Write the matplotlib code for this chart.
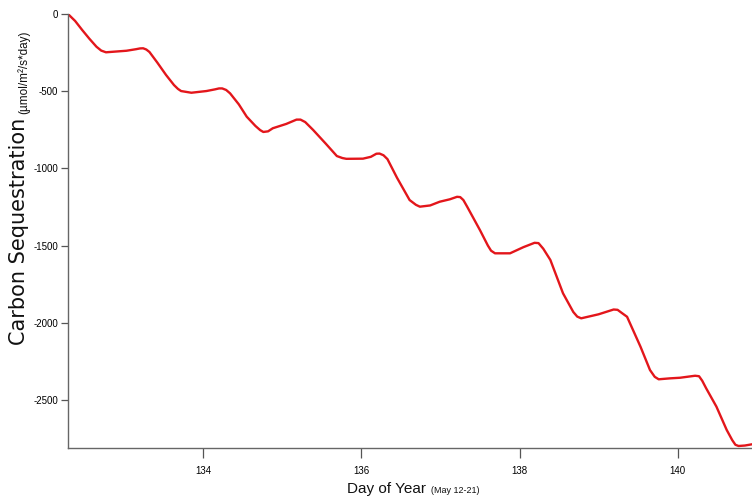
import matplotlib
matplotlib.use("Agg")
import matplotlib.pyplot as plt

day = [132.29, 132.33, 132.38, 132.47, 132.56, 132.65, 132.71, 132.77, 132.90, 133.03, 133.15,
       133.20, 133.24, 133.28, 133.32, 133.42, 133.53, 133.63, 133.68, 133.72, 133.85, 134.04, 134.15,
       134.20, 134.24, 134.29, 134.34, 134.45, 134.55, 134.66, 134.72, 134.76, 134.82, 134.88, 135.05,
       135.18, 135.23, 135.29, 135.39, 135.55, 135.69, 135.76, 135.81, 136.02, 136.12, 136.19, 136.23,
       136.28, 136.33, 136.45, 136.61, 136.69, 136.74, 136.87, 136.99, 137.12, 137.21, 137.25,
       137.29, 137.34, 137.50, 137.60, 137.64, 137.69, 137.88, 138.05, 138.19, 138.24, 138.30,
       138.39, 138.55, 138.68, 138.73, 138.78, 139.00, 139.19, 139.24, 139.29, 139.36, 139.53,
       139.65, 139.71, 139.76, 139.90, 140.03, 140.22, 140.27, 140.31, 140.36, 140.49, 140.62,
       140.69, 140.73, 140.77, 140.85, 140.94]
carbon = [0, -20, -45, -104, -160, -212, -237, -248, -243, -238, -228,
          -223, -222, -230, -246, -315, -395, -460, -485, -499, -510, -499, -488,
          -482, -482, -492, -514, -585, -665, -725, -752, -764, -760, -740, -712,
          -684, -684, -700, -751, -840, -920, -933, -938, -937, -925, -905, -904,
          -915, -940, -1060, -1205, -1236, -1248, -1240, -1216, -1200, -1184, -1186,
          -1205, -1250, -1400, -1500, -1533, -1550, -1550, -1510, -1482, -1484, -1520,
          -1593, -1809, -1930, -1960, -1971, -1945, -1914, -1916, -1935, -1961, -2155,
          -2306, -2350, -2366, -2360, -2356, -2343, -2346, -2375, -2424, -2543, -2694,
          -2760, -2790, -2798, -2795, -2787]

xticks = [134, 136, 138, 140]
yticks = [0, -500, -1000, -1500, -2000, -2500]

fig = plt.figure(figsize=(7.52, 4.99), dpi=100)
ax = fig.add_axes([68/752, (499-448)/499, 1 - 68/752, (448-14)/499])
ax.plot(day, carbon, color='#e3161b', lw=1.7, solid_joinstyle='round', solid_capstyle='round')
ax.set_xlim(132.29, 140.94)
ax.set_ylim(-2811, 0)
ax.set_xticks(xticks)
ax.set_yticks(yticks)
ax.set_xticklabels([str(t) for t in xticks], fontfamily='Liberation Sans', fontsize=7)
ax.set_yticklabels([str(t) for t in yticks], fontfamily='Liberation Sans', fontsize=7)
for s in ['top', 'right']:
    ax.spines[s].set_visible(False)
for s in ['left', 'bottom']:
    ax.spines[s].set_color('#666666')
    ax.spines[s].set_linewidth(1.0)
ax.tick_params(axis='y', direction='out', length=5, width=0.9, color='#555555', pad=2)
ax.tick_params(axis='x', direction='out', length=7, width=0.9, color='#555555', pad=6)

fig.canvas.draw()
r = fig.canvas.get_renderer()

# y label: big part then small part stacked upward
big = fig.text(29/752, 0, 'Carbon Sequestration', rotation=90,
               fontfamily='DejaVu Sans', fontsize=15, ha='right', va='bottom', color='#111111')
small = fig.text(30/752, 0, '(µmol/m²/s*day)', rotation=90,
                 fontfamily='Liberation Sans', fontsize=8.5, ha='right', va='bottom', color='#111111')
hb = big.get_window_extent(r).height
hs = small.get_window_extent(r).height
gap = 4
total = hb + gap + hs
center_px = 499 - 188
y0 = center_px - total / 2
big.set_y(y0 / 499)
small.set_y((y0 + hb + gap) / 499)

# x label: big part then small part side by side
xl = fig.text(0, (499-493)/499, 'Day of Year', fontfamily='Liberation Sans', fontsize=11,
              ha='left', va='baseline', color='#111111')
xs = fig.text(0, (499-493)/499, '(May 12-21)', fontfamily='Liberation Sans', fontsize=6.5,
              ha='left', va='baseline', color='#111111')
wl = xl.get_window_extent(r).width
ws = xs.get_window_extent(r).width
gap = 5
totw = wl + gap + ws
x0 = 413 - totw / 2
xl.set_x(x0 / 752)
xs.set_x((x0 + wl + gap) / 752)

fig.savefig('out.png', dpi=100)
